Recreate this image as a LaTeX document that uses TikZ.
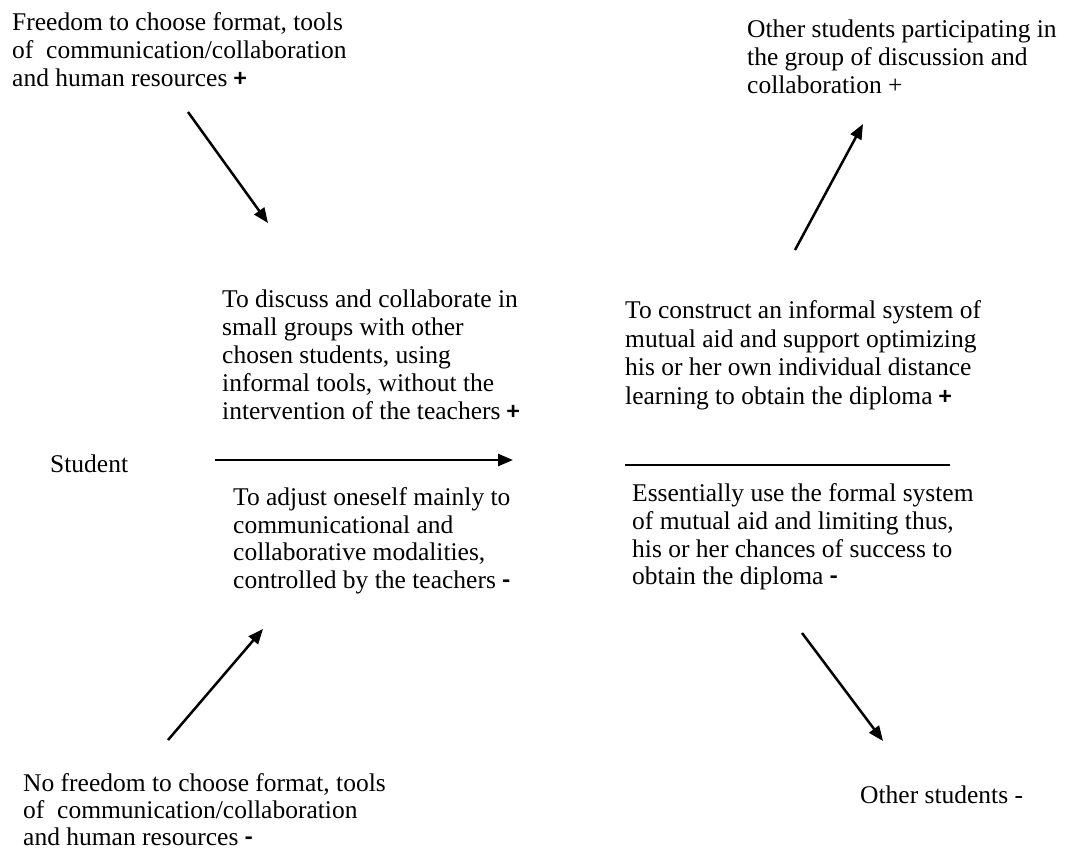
\documentclass[tikz,border=0pt]{standalone}
\usepackage{fontspec}
\setmainfont{Liberation Serif}
\newfontfamily\signfont{Carlito}
\usetikzlibrary{arrows.meta}
\newcommand{\plusmark}{{\signfont\bfseries +}}
\newcommand{\minusmark}{{\signfont\bfseries -}}
\begin{document}
\begin{tikzpicture}[x=1pt,y=-1pt,
  lbl/.style={anchor=north west,inner sep=0pt,align=left,font=\fontsize{25.5}{28}\selectfont},
  one/.style={anchor=base west,inner sep=0pt,font=\fontsize{25.5}{28}\selectfont},
  arr/.style={line width=2.5pt,-{Triangle[length=15pt,width=12pt]}},
  plain/.style={line width=1.6pt}]
\useasboundingbox (0,0) rectangle (1065,852);
\node[lbl] (t1) at (12,12) {Freedom to choose format, tools\\of\ \ communication/collaboration\\and human resources \plusmark};
\node[lbl] (t2) at (747,19.6) {Other students participating in\\the group of discussion and\\collaboration +};
\node[lbl] (t3) at (222,289.6) {To discuss and collaborate in\\small groups with other\\chosen students, using\\informal tools, without the\\intervention of the teachers \plusmark};
\node[lbl,font=\fontsize{25.5}{28.5}\selectfont] (t4) at (625,300.6) {To construct an informal system of\\mutual aid and support optimizing\\his or her own individual distance\\learning to obtain the diploma \plusmark};
\node[one] (st) at (50,472) {Student};
\node[lbl,font=\fontsize{25.5}{27.5}\selectfont] (t5) at (233,487.6) {To adjust oneself mainly to\\communicational and\\collaborative modalities,\\controlled by the teachers \minusmark};
\node[lbl,font=\fontsize{25.5}{27.7}\selectfont] (t6) at (632,483.6) {Essentially use the formal system\\of mutual aid and limiting thus,\\his or her chances of success to\\obtain the diploma \minusmark};
\node[lbl,font=\fontsize{25.5}{27}\selectfont] (t7) at (23,773) {No freedom to choose format, tools\\of\ \ communication/collaboration\\and human resources \minusmark};
\node[one] (t8) at (860,803) {Other students -};
\coordinate (a1s) at (188,112); \coordinate (a1e) at (268,223);
\coordinate (a2s) at (795,250); \coordinate (a2e) at (863,124);
\coordinate (a3s) at (215,460); \coordinate (a3e) at (513,460);
\coordinate (a4s) at (168,740); \coordinate (a4e) at (263,629);
\coordinate (a5s) at (802,633); \coordinate (a5e) at (883,741);
\coordinate (ls) at (625,465); \coordinate (le) at (950,465);
\draw[arr] (a1s) -- (a1e);
\draw[arr] (a2s) -- (a2e);
\draw[arr] (a3s) -- (a3e);
\draw[arr] (a4s) -- (a4e);
\draw[arr] (a5s) -- (a5e);
\draw[plain] (ls) -- (le);
\end{tikzpicture}
\end{document}
